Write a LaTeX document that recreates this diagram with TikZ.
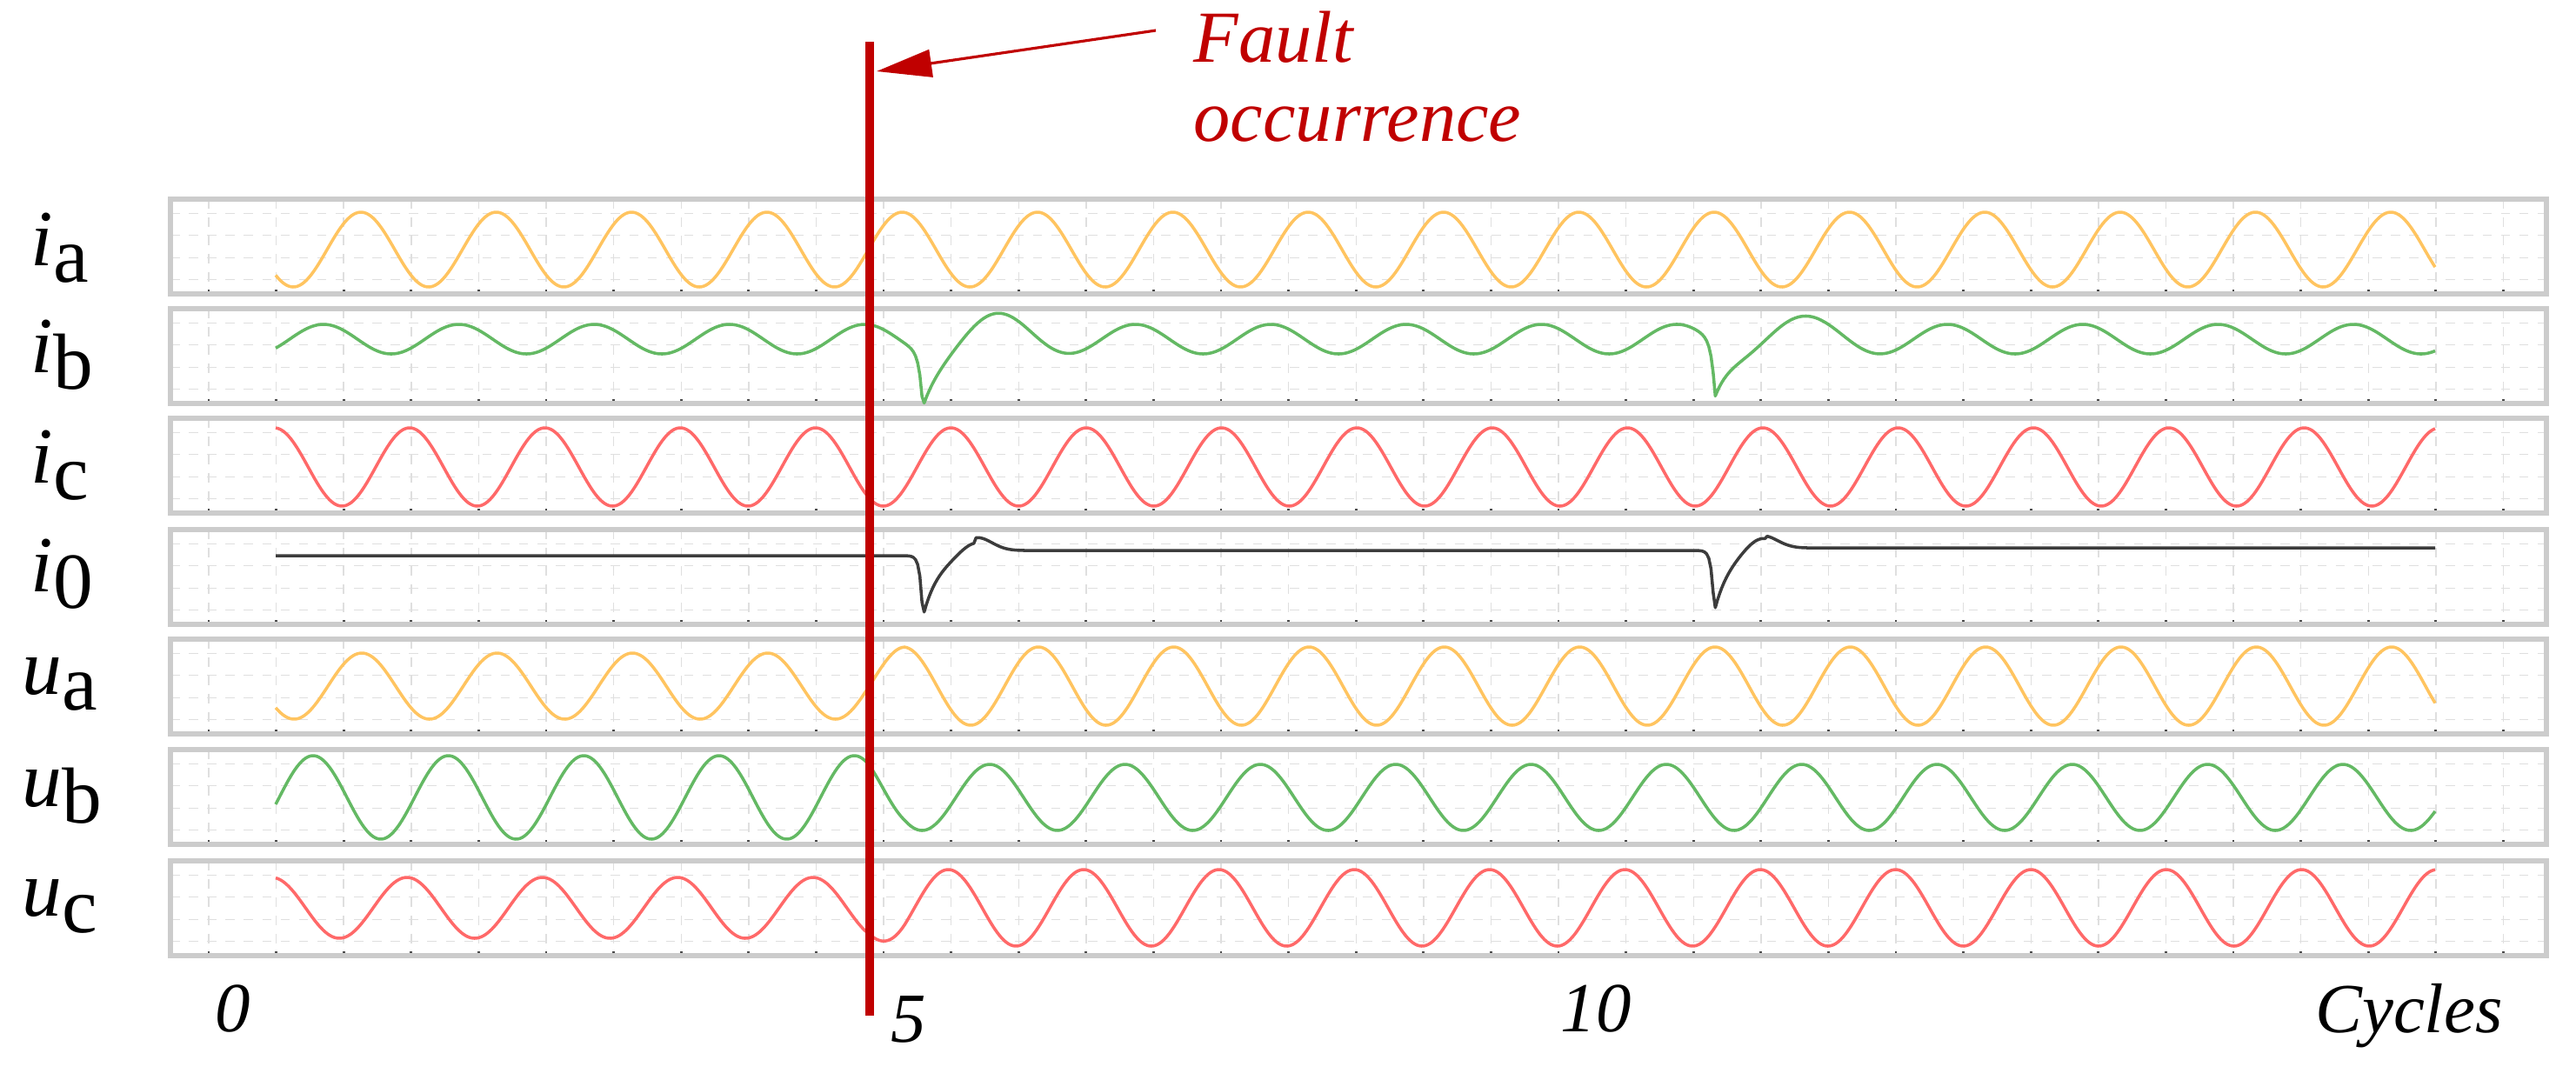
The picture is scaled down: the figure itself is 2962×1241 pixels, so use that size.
\documentclass[tikz,border=0pt]{standalone}
\usepackage{fontspec}
\setmainfont{Liberation Serif}
\usetikzlibrary{positioning,arrows.meta}
\definecolor{faultred}{RGB}{192,0,0}
\definecolor{phA}{RGB}{255,196,96}
\definecolor{phB}{RGB}{100,185,100}
\definecolor{phC}{RGB}{255,105,105}
\definecolor{zero}{RGB}{60,60,60}

\begin{document}
\begin{tikzpicture}[x=0.01cm,y=-0.01cm,
        panel/.style = {draw=gray!40, line width=1.6pt},
        grid line/.style = {gray!25, dashed, line width=0.4pt},
        wave/.style = {line width=1pt, samples=1000, domain=317:2800, line join=round},
        lbl/.style = {font=\fontsize{26}{28}\selectfont, anchor=west, inner sep=0pt},
        axis lbl/.style = {font=\fontsize{23}{26}\selectfont\itshape},
        fault/.style = {font=\fontsize{24}{28}\selectfont\itshape, text=faultred, align=left, anchor=north west, inner sep=0pt},
        declare function={
            spk(\x,\c,\l,\r)=exp(-min(max(\c-\x,0)/\l+max(\x-\c,0)/\r,15));
            gb(\x,\c,\w)=exp(-min(((\x-\c)/\w)^2,15));
            ramp(\x)=min(max((\x-1000)/40,0),1);
            ph(\x,\p)=cos(2.3136*(\x-\p));
        }]
        \useasboundingbox (0,0) rectangle (2962,1241);

        % panels with grid and ticks
        \foreach \t in {229,355,481,609,735,862,990}{
            \foreach \g in {0.15,0.38,0.62,0.85}
                \draw[grid line] (196,\t+\g*109) -- (2928,\t+\g*109);
            \foreach \v in {0,...,34}{
                \draw[grid line] (240+\v*77.6,\t) -- (240+\v*77.6,\t+109);
                \draw[black!70, line width=0.8pt] (240+\v*77.6,\t+109) -- (240+\v*77.6,\t+104);
            }
            \draw[panel] (196,\t) rectangle (2928,\t+109);
        }

        % signals
        \draw[wave, phA] plot (\x, {287-43*ph(\x,415)});
        \draw[wave, phB] plot (\x, {390-17*ph(\x,372)+64*spk(\x,1061,4,20)-14*gb(\x,1140,50)+64*spk(\x,1972,4,20)-14*gb(\x,2050,50)});
        \draw[wave, phC] plot (\x, {537-45*ph(\x,471)});
        \draw[wave, zero] plot (\x, {639+71*spk(\x,1061,3,18)-6*(\x>1120)-17*gb(\x,1122,25)+71*spk(\x,1971,3,18)-3*(\x>2030)-17*gb(\x,2025,25)});
        \draw[wave, phA] plot (\x, {789-(38+7*ramp(\x))*ph(\x,416)});
        \draw[wave, phB] plot (\x, {917-(48-10*ramp(\x))*ph(\x,360)});
        \draw[wave, phC] plot (\x, {1044-(35+9*ramp(\x))*ph(\x,468)});

        % row labels
        \node[lbl] (ia) at (35,285) {\textit{i}\raisebox{-0.45ex}{a}};
        \node[lbl] (ib) at (35,408) {\textit{i}\raisebox{-0.45ex}{b}};
        \node[lbl] (ic) at (35,535) {\textit{i}\raisebox{-0.45ex}{c}};
        \node[lbl] (i0) at (35,660) {\textit{i}\raisebox{-0.45ex}{0}};
        \node[lbl] (ua) at (25,787) {\textit{u}\raisebox{-0.45ex}{a}};
        \node[lbl] (ub) at (25,915) {\textit{u}\raisebox{-0.45ex}{b}};
        \node[lbl] (uc) at (25,1042) {\textit{u}\raisebox{-0.45ex}{c}};

        % cycle axis
        \node[axis lbl] (c0) at (268,1160) {0};
        \node[axis lbl] (c5) at (1045,1172) {5};
        \node[axis lbl] (c10) at (1835,1160) {10};
        \node[axis lbl] (cyc) at (2770,1168) {Cycles};

        % fault instant
        \coordinate (ftop) at (1000,48);
        \coordinate (fbot) at (1000,1168);
        \draw[faultred, line width=3pt] (ftop) -- (fbot);
        \node[fault] (ftext) at (1372,12) {Fault\\[-2pt]occurrence};
        \coordinate (ftail) at (1329,35);
        \coordinate (ftip) at (1008,82);
        \draw[faultred, line width=0.9pt, -{Triangle[length=18pt,width=9pt]}] (ftail) -- (ftip);
    \end{tikzpicture}
\end{document}
